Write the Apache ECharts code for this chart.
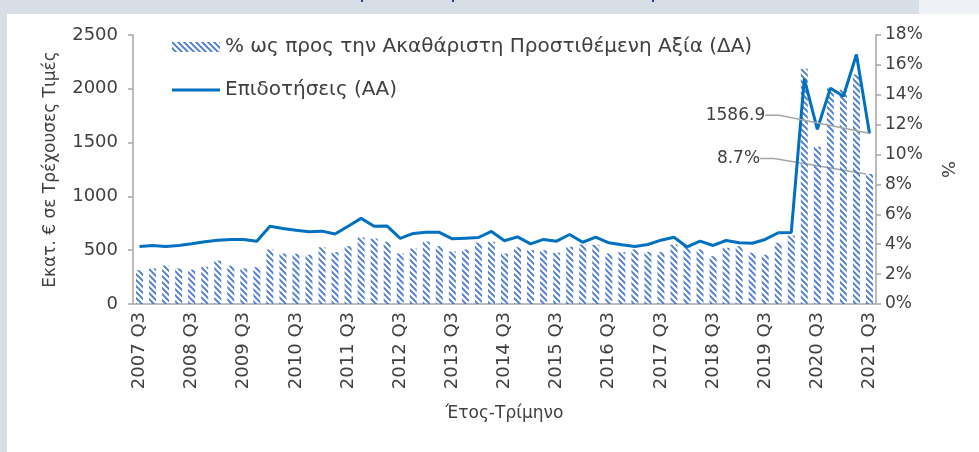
<!DOCTYPE html>
<html>
<head>
<meta charset="utf-8">
<script src="https://cdn.jsdelivr.net/npm/echarts@6.0.0/dist/echarts.min.js"></script>
<style>
html,body{margin:0;padding:0;background:#d8dee6;}
#wrap{position:relative;width:979px;height:452px;overflow:hidden;}
#topband{position:absolute;left:919px;top:0;width:60px;height:14px;background:#eef1f6;}
#panel{position:absolute;left:7px;top:14px;width:972px;height:438px;background:#fff;}
#chart{position:absolute;left:0;top:0;width:979px;height:452px;}
</style>
</head>
<body>
<div id="wrap">
  <div id="topband"></div>
  <div id="panel"></div>
  <div id="chart"></div>
</div>
<script>
// τρίμηνα 2007 Q3 - 2021 Q3
var quarters = [
  '2007 Q3','2007 Q4','2008 Q1','2008 Q2','2008 Q3','2008 Q4','2009 Q1','2009 Q2','2009 Q3','2009 Q4',
  '2010 Q1','2010 Q2','2010 Q3','2010 Q4','2011 Q1','2011 Q2','2011 Q3','2011 Q4','2012 Q1','2012 Q2',
  '2012 Q3','2012 Q4','2013 Q1','2013 Q2','2013 Q3','2013 Q4','2014 Q1','2014 Q2','2014 Q3','2014 Q4',
  '2015 Q1','2015 Q2','2015 Q3','2015 Q4','2016 Q1','2016 Q2','2016 Q3','2016 Q4','2017 Q1','2017 Q2',
  '2017 Q3','2017 Q4','2018 Q1','2018 Q2','2018 Q3','2018 Q4','2019 Q1','2019 Q2','2019 Q3','2019 Q4',
  '2020 Q1','2020 Q2','2020 Q3','2020 Q4','2021 Q1','2021 Q2','2021 Q3'
];

// Επιδοτήσεις, εκατ. € (αριστερός άξονας)
var subsidies = [
  534,544,534,544,559,578,593,600,600,584,
  723,702,686,671,677,650,722,796,722,724,
  610,656,667,666,606,612,618,674,588,624,
  559,600,584,646,574,621,569,550,534,553,
  593,621,530,584,544,590,569,565,600,662,
  665,2093,1624,2006,1931,2319,1586.9
];

// % ως προς την ΑΠΑ (δεξιός άξονας)
var shareGva = [
  2.26,2.38,2.58,2.38,2.29,2.49,2.91,2.56,2.38,2.46,
  3.65,3.38,3.36,3.29,3.80,3.47,3.87,4.45,4.38,4.16,
  3.38,3.71,4.18,3.87,3.51,3.65,4.10,4.16,3.38,3.80,
  3.60,3.60,3.43,3.83,3.98,3.96,3.38,3.47,3.65,3.49,
  3.47,3.98,3.92,3.65,3.20,3.76,3.87,3.43,3.29,4.10,
  4.58,15.74,10.52,14.47,14.36,15.36,8.7
];

var leftTicks = [0, 2500, 500];
var rightTicks = [0, 18, 2];

var nameBar = '% ως προς την Ακαθάριστη Προστιθέμενη Αξία (ΔΑ)';
var nameLine = 'Επιδοτήσεις (ΑΑ)';

var txt = '#404040';
var axisCol = '#a6a6a6';
var font = 'DejaVu Sans';

// μοτίβο με διαγώνιες γραμμές για τις στήλες
function hatch(){
  var c = document.createElement('canvas');
  c.width = 6; c.height = 6;
  var ctx = c.getContext('2d');
  ctx.strokeStyle = '#4a7bd2';
  ctx.lineWidth = 1.9;
  ctx.beginPath();
  ctx.moveTo(-1,-1); ctx.lineTo(7,7);
  ctx.moveTo(-4,2); ctx.lineTo(2,8);
  ctx.moveTo(4,-2); ctx.lineTo(8,2);
  ctx.stroke();
  return c;
}

// κομμένος τίτλος στο πάνω μέρος (φαίνονται μόνο οι ουρές των γραμμάτων)
function titleBit(ch, x){
  return {
    type: 'text', left: x, top: -19, silent: true,
    style: {text: ch, fontSize: 22, fontFamily: font, fill: '#1d4391'}
  };
}

var last = quarters.length - 1;
var lineData = subsidies.map(function(v, i){
  if(i == last){
    return {value: v, symbol: 'circle', symbolSize: 1, label: {show: true, formatter: '1586.9'}};
  }
  return v;
});
var barData = shareGva.map(function(v, i){
  if(i == last){
    return {value: v, label: {show: true, formatter: '8.7%'}};
  }
  return v;
});

var chart = echarts.init(document.getElementById('chart'));
var pattern = {image: hatch(), repeat: 'repeat'};

var option = {
  animation: false,
  textStyle: {fontFamily: font, color: txt},
  grid: {left: 133, right: 103, top: 35, bottom: 148},
  graphic: [titleBit(',', 284), titleBit('ρ', 359), titleBit('ρ', 450), titleBit('ρ', 650)],
  legend: {
    orient: 'vertical',
    left: 167, top: 32,
    itemWidth: 48, itemHeight: 10, itemGap: 23,
    textStyle: {fontSize: 20, color: txt, fontFamily: font},
    data: [
      {name: nameBar, icon: 'rect'},
      {name: nameLine, icon: 'path://M0,0 L48,0 L48,3 L0,3 Z'}
    ]
  },
  xAxis: {
    type: 'category',
    data: quarters,
    boundaryGap: true,
    name: 'Έτος-Τρίμηνο',
    nameLocation: 'middle',
    nameGap: 101,
    nameTextStyle: {fontSize: 17, color: txt, fontFamily: font},
    axisLine: {lineStyle: {color: axisCol, width: 1.5}},
    axisTick: {interval: 11, length: 5, lineStyle: {color: axisCol, width: 1.5}},
    axisLabel: {interval: 3, rotate: 90, fontSize: 18, margin: 8, color: txt, fontFamily: font}
  },
  yAxis: [{
    type: 'value',
    position: 'left',
    min: leftTicks[0], max: leftTicks[1], interval: leftTicks[2],
    name: 'Εκατ. € σε Τρέχουσες Τιμές',
    nameLocation: 'middle',
    nameGap: 74,
    nameTextStyle: {fontSize: 17, color: txt, fontFamily: font},
    axisLine: {show: true, lineStyle: {color: axisCol, width: 1.5}},
    axisTick: {show: true, length: 5, lineStyle: {color: axisCol, width: 1.5}},
    splitLine: {show: false},
    axisLabel: {fontSize: 18, margin: 15, color: txt, fontFamily: font, formatter: function(v){ return String(v); }}
  }, {
    type: 'value',
    position: 'right',
    min: rightTicks[0], max: rightTicks[1], interval: rightTicks[2],
    name: '%',
    nameLocation: 'middle',
    nameGap: 62,
    nameRotate: -90,
    nameTextStyle: {fontSize: 18, color: txt, fontFamily: font},
    axisLine: {show: true, lineStyle: {color: axisCol, width: 1.5}},
    axisTick: {show: true, length: 5, lineStyle: {color: axisCol, width: 1.5}},
    splitLine: {show: false},
    axisLabel: {fontSize: 17, margin: 9, color: txt, fontFamily: font, formatter: '{value}%'}
  }],
  series: [{
    name: nameBar,
    type: 'bar',
    yAxisIndex: 1,
    data: barData,
    barWidth: 7,
    itemStyle: {color: pattern},
    label: {show: false, position: 'top', fontSize: 17, color: txt, fontFamily: font},
    labelLayout: {dx: -131, dy: -2},
    labelLine: {show: true, length2: 14, lineStyle: {color: axisCol, width: 1.5}},
    z: 1
  }, {
    name: nameLine,
    type: 'line',
    yAxisIndex: 0,
    data: lineData,
    symbol: 'none',
    lineStyle: {color: '#0070c0', width: 3},
    itemStyle: {color: '#0070c0'},
    label: {show: false, position: 'top', fontSize: 17, color: txt, fontFamily: font},
    labelLayout: {dx: -134, dy: -4},
    labelLine: {show: true, length2: 14, lineStyle: {color: axisCol, width: 1.5}},
    z: 3
  }]
};

chart.setOption(option);
</script>
</body>
</html>
